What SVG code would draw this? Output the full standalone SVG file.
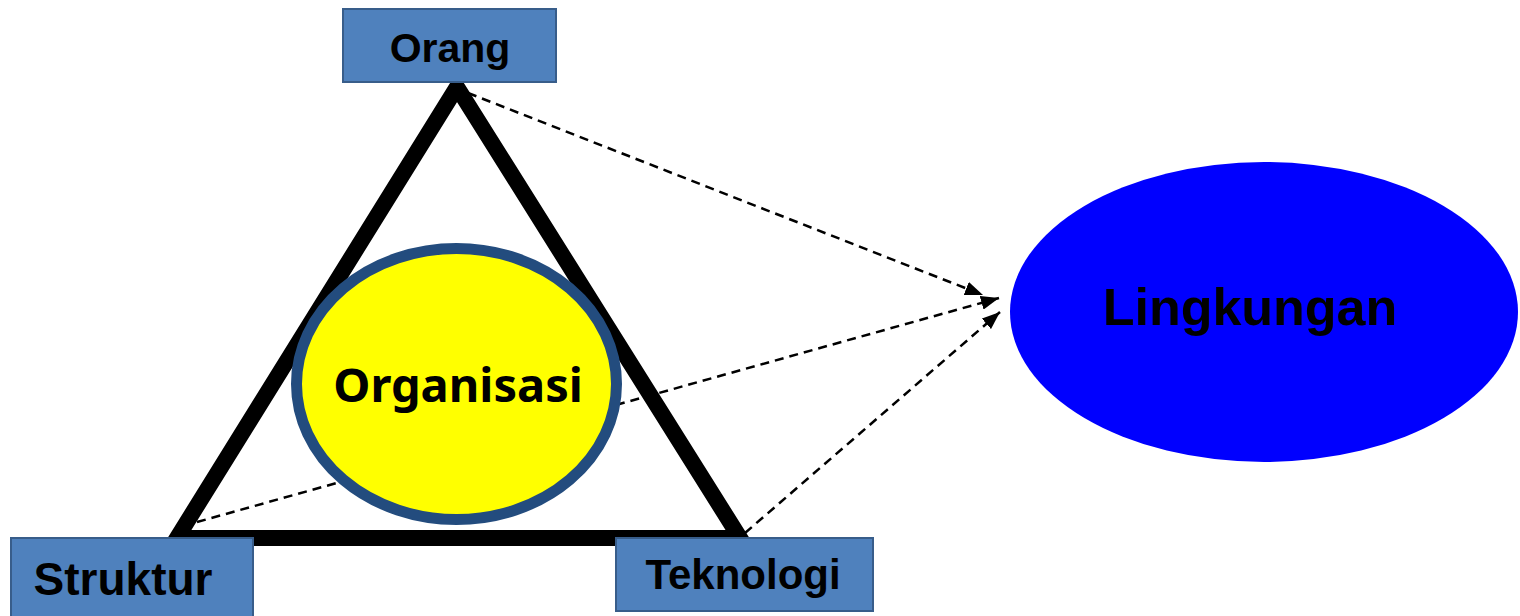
<svg xmlns="http://www.w3.org/2000/svg" width="1520" height="616" viewBox="0 0 1520 616">
<style>
.box{fill:#4F81BD;stroke:#385D8A;stroke-width:2}
.lbl{font-family:"Liberation Sans",Arial,sans-serif;font-weight:bold;fill:#000;text-anchor:middle}
.dash{fill:none;stroke:#000;stroke-width:2.5;stroke-dasharray:9,6}
</style>
<defs>
<marker id="arr" viewBox="0 0 18 14" refX="18" refY="7" markerWidth="18" markerHeight="14" markerUnits="userSpaceOnUse" orient="auto">
<path d="M0,0 L18,7 L0,14 z" fill="#000"/>
</marker>
</defs>
<rect width="1520" height="616" fill="#fff"/>
<g id="triangle">
<polygon points="457,87 177,538 740,538" fill="none" stroke="#000" stroke-width="16" stroke-linejoin="miter" stroke-miterlimit="10"/>
</g>
<g id="connectors">
<line class="dash" x1="468" y1="93" x2="983" y2="295" marker-end="url(#arr)"/>
<line class="dash" x1="197" y1="522" x2="999" y2="298" marker-end="url(#arr)"/>
<line class="dash" x1="745" y1="533" x2="1000" y2="312" marker-end="url(#arr)"/>
</g>
<g id="organisasi">
<ellipse cx="456.5" cy="384" rx="160" ry="135.5" fill="#FFFF00" stroke="#234C7E" stroke-width="11"/>
<text x="458" y="402" font-family="'Noto Sans','Open Sans',sans-serif" font-weight="bold" font-size="47" text-anchor="middle" fill="#000">Organisasi</text>
</g>
<g id="orang">
<rect class="box" x="343" y="9" width="213" height="73"/>
<text class="lbl" x="450" y="62" font-size="41">Orang</text>
</g>
<g id="struktur">
<rect class="box" x="11" y="538" width="242" height="90"/>
<text class="lbl" x="123" y="595" font-size="46">Struktur</text>
</g>
<g id="teknologi">
<rect class="box" x="616" y="538" width="257" height="73"/>
<text class="lbl" x="743" y="589" font-size="42">Teknologi</text>
</g>
<g id="lingkungan">
<ellipse cx="1264" cy="312" rx="254" ry="150" fill="#0000FF"/>
<text class="lbl" x="1250" y="325" font-size="52">Lingkungan</text>
</g>
</svg>
